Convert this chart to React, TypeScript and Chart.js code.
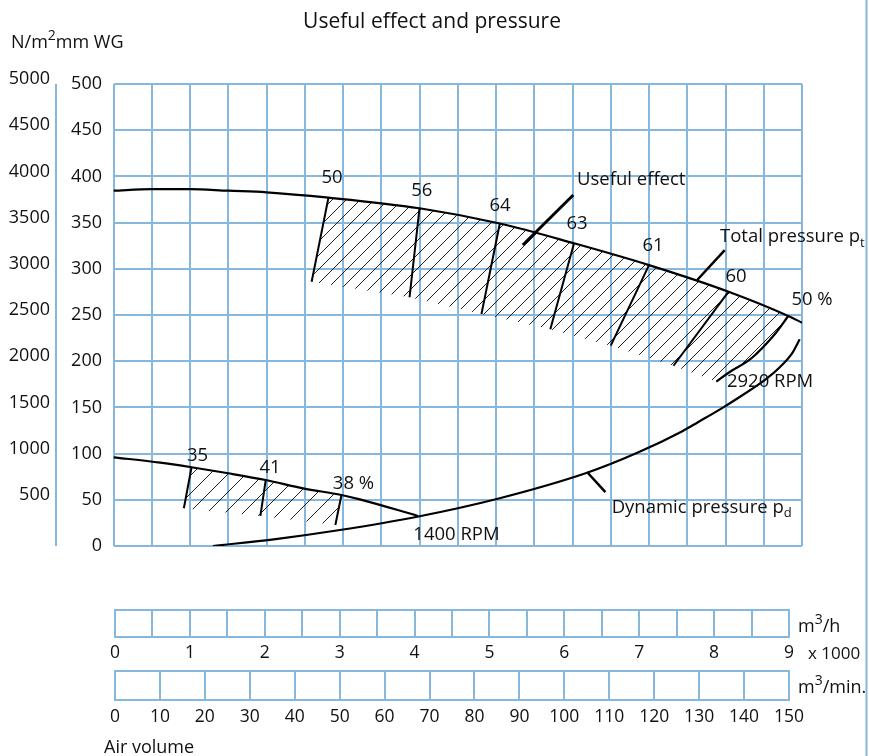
import React, { useEffect, useRef } from 'react';
import { Chart, registerables } from 'chart.js';

Chart.register(...registerables);

const FONT = '"Open Sans", "Noto Sans", sans-serif';
const GRID = '#86b8dd';
const INK = '#111111';

// ---- axis ticks ----
const mmWgMin = 0;
const mmWgMax = 500;
const mmWgStep = 50;
const nm2Labels = [500, 1000, 1500, 2000, 2500, 3000, 3500, 4000, 4500, 5000];
const volThousandLabels = [0, 1, 2, 3, 4, 5, 6, 7, 8, 9];
const volMinLabels = [0, 10, 20, 30, 40, 50, 60, 70, 80, 90, 100, 110, 120, 130, 140, 150];

// ---- total pressure, 2920 RPM (x: 1000 m3/h, y: mm WG) ----
const hiTotalX = [0, 0.5, 1, 1.5, 2, 2.81, 4.0, 5.05, 6.02, 7.0, 8.04, 8.82, 9.0];
const hiTotalY = [384.5, 386.3, 386.3, 384.5, 382.8, 377, 365.5, 349, 327.6, 304, 275.2, 249, 241.7];

// ---- total pressure, 1400 RPM ----
const loTotalX = [0, 0.61, 1.02, 1.5, 1.99, 2.48, 2.98, 3.22, 3.98];
const loTotalY = [96, 90.2, 85.2, 78.7, 71.4, 62.4, 55.2, 50.5, 32.5];

// ---- dynamic pressure ----
const dynX = [1.3, 2.12, 2.96, 3.97, 5.01, 6.19, 6.84, 7.43, 7.64, 7.95, 8.19, 8.52, 8.71, 8.87, 8.97];
const dynY = [0, 7.5, 17.3, 31.7, 50.9, 79.3, 100.6, 124, 134, 149, 161.5, 180, 193.5, 208.5, 223.7];

// ---- useful effect lines, 2920 RPM ----
const hiEffTopX = [2.81, 4.0, 5.05, 6.02, 7.0, 8.04];
const hiEffTopY = [377, 365.5, 349, 327.6, 304, 275.2];
const hiEffBotX = [2.59, 3.87, 4.81, 5.71, 6.5, 7.32];
const hiEffBotY = [286, 269.2, 251.1, 234.5, 216.8, 195.1];
// 50 % curve
const hiEff50X = [8.82, 8.67, 8.54, 8.41, 8.28, 8.06, 7.88];
const hiEff50Y = [248.9, 231.9, 219.4, 208.5, 199.5, 188.6, 177.8];

// ---- useful effect lines, 1400 RPM ----
const loEffTopX = [1.02, 1.99, 2.98];
const loEffTopY = [85.2, 71.4, 55.2];
const loEffBotX = [0.92, 1.92, 2.9];
const loEffBotY = [40.8, 32.5, 22.7];

// ---- efficiency labels ----
const effLabelText = ['50', '56', '64', '63', '61', '60', '50 %', '35', '41', '38 %'];
const effLabelX = [2.856, 4.029, 5.052, 6.059, 7.052, 8.137, 9.131, 1.098, 2.046, 3.137];
const effLabelY = [398.3, 384.4, 368.0, 349.2, 324.7, 291.9, 266.6, 97.6, 85.0, 67.9];

// ---- leader lines ----
const leaderUsefulX = [6.01, 5.35];
const leaderUsefulY = [379.9, 325.8];
const leaderTotalX = [7.99, 7.63];
const leaderTotalY = [320.3, 287.9];
const leaderDynX = [6.43, 6.19];
const leaderDynY = [58.4, 80.1];

// ---- text annotations (data coordinates) ----
const noteText = ['Useful effect', 'Total pressure p', '2920 RPM', '1400 RPM', 'Dynamic pressure p'];
const noteSub = ['', 't', '', '', 'd'];
const noteX = [6.059, 7.928, 8.019, 3.919, 6.512];
const noteY = [396.1, 334.4, 177.5, 11.9, 41.9];

const pts = (xs: number[], ys: number[]) => xs.map((x, i) => ({ x, y: ys[i] }));

function makeHatch(step: number) {
  const c = document.createElement('canvas');
  c.width = step;
  c.height = step;
  const g = c.getContext('2d')!;
  g.strokeStyle = '#202020';
  g.lineWidth = 1;
  g.beginPath();
  g.moveTo(0, step);
  g.lineTo(step, 0);
  g.moveTo(-step / 2, step / 2);
  g.lineTo(step / 2, -step / 2);
  g.moveTo(step / 2, step * 1.5);
  g.lineTo(step * 1.5, step / 2);
  g.stroke();
  return g.createPattern(c, 'repeat')!;
}

type Part = { t: string; size: number; dy?: number };
function drawRich(ctx: CanvasRenderingContext2D, parts: Part[], x: number, y: number, align: string) {
  let total = 0;
  parts.forEach((p) => {
    ctx.font = `${p.size}px ${FONT}`;
    total += ctx.measureText(p.t).width;
  });
  let cx = align === 'center' ? x - total / 2 : align === 'right' ? x - total : x;
  ctx.textAlign = 'left';
  parts.forEach((p) => {
    ctx.font = `${p.size}px ${FONT}`;
    ctx.fillText(p.t, cx, y + (p.dy || 0));
    cx += ctx.measureText(p.t).width;
  });
}

const decorPlugin = {
  id: 'decor',
  afterDraw(chart: any) {
    const ctx: CanvasRenderingContext2D = chart.ctx;
    const xs = chart.scales.x;
    const ys = chart.scales.y;
    ctx.save();
    ctx.fillStyle = INK;
    ctx.textBaseline = 'middle';

    // title
    drawRich(ctx, [{ t: 'Useful effect and pressure', size: 21 }], 432, 22, 'center');
    // unit header
    drawRich(ctx, [{ t: 'N/m', size: 18 }, { t: '2', size: 14, dy: -7 }, { t: 'mm WG', size: 18 }], 11, 43, 'left');

    // N/m2 column + its axis line
    ctx.font = `18px ${FONT}`;
    ctx.textAlign = 'right';
    nm2Labels.forEach((v) => {
      ctx.fillText(String(v), 50, ys.getPixelForValue(v / 10) - 5);
    });
    ctx.strokeStyle = GRID;
    ctx.lineWidth = 2;
    ctx.beginPath();
    ctx.moveTo(56, ys.getPixelForValue(mmWgMax));
    ctx.lineTo(56, ys.getPixelForValue(mmWgMin));
    ctx.stroke();

    // right border line
    ctx.beginPath();
    ctx.moveTo(866.5, 0);
    ctx.lineTo(866.5, 756);
    ctx.stroke();

    // efficiency labels
    effLabelText.forEach((t, i) => {
      drawRich(ctx, [{ t, size: 18.5 }], xs.getPixelForValue(effLabelX[i]), ys.getPixelForValue(effLabelY[i]), 'center');
    });
    // notes
    noteText.forEach((t, i) => {
      const parts: Part[] = [{ t, size: 18.5 }];
      if (noteSub[i]) parts.push({ t: noteSub[i], size: 13, dy: 6 });
      drawRich(ctx, parts, xs.getPixelForValue(noteX[i]), ys.getPixelForValue(noteY[i]), 'left');
    });

    // air volume strips
    const sL = 115;
    const sR = 789;
    const strip = (top: number, bottom: number, cells: number) => {
      ctx.strokeStyle = GRID;
      ctx.lineWidth = 2;
      ctx.strokeRect(sL, top, sR - sL, bottom - top);
      ctx.beginPath();
      for (let i = 1; i < cells; i++) {
        const px = Math.round(sL + ((sR - sL) * i) / cells);
        ctx.moveTo(px, top);
        ctx.lineTo(px, bottom);
      }
      ctx.stroke();
    };
    strip(610, 637, (volThousandLabels.length - 1) * 2);
    strip(671, 700, volMinLabels.length - 1);

    ctx.fillStyle = INK;
    ctx.font = `17.5px ${FONT}`;
    ctx.textAlign = 'center';
    const n1 = volThousandLabels.length - 1;
    volThousandLabels.forEach((v, i) => {
      ctx.fillText(String(v), sL + ((sR - sL) * i) / n1, 653);
    });
    const n2 = volMinLabels.length - 1;
    volMinLabels.forEach((v, i) => {
      ctx.fillText(String(v), sL + ((sR - sL) * i) / n2, 717);
    });
    drawRich(ctx, [{ t: 'm', size: 18 }, { t: '3', size: 14, dy: -7 }, { t: '/h', size: 18 }], 798, 627, 'left');
    drawRich(ctx, [{ t: 'x 1000', size: 17 }], 808, 654, 'left');
    drawRich(ctx, [{ t: 'm', size: 18 }, { t: '3', size: 14, dy: -7 }, { t: '/min.', size: 18 }], 798, 688, 'left');
    drawRich(ctx, [{ t: 'Air volume', size: 18 }], 104, 748, 'left');
    ctx.restore();
  },
};

export default function App() {
  const ref = useRef<HTMLCanvasElement | null>(null);
  useEffect(() => {
    if (!ref.current) return;
    const hatchA = makeHatch(14);
    const hatchB = makeHatch(18);

    const upperPoly = [
      ...pts(hiTotalX, hiTotalY).filter((p) => p.x >= hiEffTopX[0] && p.x <= hiEff50X[0]),
      ...pts(hiEff50X, hiEff50Y).slice(1),
      ...pts(hiEffBotX, hiEffBotY).reverse(),
      { x: hiEffTopX[0], y: hiEffTopY[0] },
    ];
    const lowerPoly = [
      ...pts(loTotalX, loTotalY).filter((p) => p.x >= loEffTopX[0] && p.x <= loEffTopX[loEffTopX.length - 1]),
      ...pts(loEffBotX, loEffBotY).reverse(),
      { x: loEffTopX[0], y: loEffTopY[0] },
    ];

    const line = (data: any[], width = 2, tension = 0) => ({
      data,
      borderColor: '#000',
      borderWidth: width,
      pointRadius: 0,
      fill: false,
      tension,
      cubicInterpolationMode: tension ? 'monotone' : 'default',
    });

    const datasets: any[] = [
      line(pts(hiTotalX, hiTotalY), 2.2, 0.4),
      line(pts(loTotalX, loTotalY), 2.2, 0.4),
      line(pts(dynX, dynY), 2.2, 0.4),
      { ...line(pts(hiEff50X, hiEff50Y), 2.2, 0.4), cubicInterpolationMode: 'default' },
      ...hiEffTopX.map((x, i) => line([{ x, y: hiEffTopY[i] }, { x: hiEffBotX[i], y: hiEffBotY[i] }], 2)),
      ...loEffTopX.map((x, i) => line([{ x, y: loEffTopY[i] }, { x: loEffBotX[i], y: loEffBotY[i] }], 2)),
      line(pts(leaderUsefulX, leaderUsefulY), 3),
      line(pts(leaderTotalX, leaderTotalY), 2.5),
      line(pts(leaderDynX, leaderDynY), 2.5),
      { data: upperPoly, borderWidth: 0, pointRadius: 0, fill: 'shape', backgroundColor: hatchA, tension: 0 },
      { data: lowerPoly, borderWidth: 0, pointRadius: 0, fill: 'shape', backgroundColor: hatchB, tension: 0 },
    ];

    const chart = new Chart(ref.current, {
      type: 'line',
      data: { datasets },
      options: {
        animation: false,
        responsive: false,
        devicePixelRatio: 1,
        layout: { padding: { left: 0, right: 67, top: 84, bottom: 210 } },
        plugins: { legend: { display: false }, tooltip: { enabled: false }, title: { display: false } },
        elements: { point: { radius: 0 } },
        scales: {
          x: {
            type: 'linear',
            min: 0,
            max: 9,
            ticks: { stepSize: 0.5, display: false },
            grid: { color: GRID, lineWidth: 2, drawTicks: false },
            border: { display: false },
            afterFit: (s: any) => {
              s.height = 0;
            },
          },
          y: {
            type: 'linear',
            min: mmWgMin,
            max: mmWgMax,
            ticks: { stepSize: mmWgStep, color: INK, font: { family: FONT, size: 18 }, padding: 11.5 },
            grid: { color: GRID, lineWidth: 2, drawTicks: false },
            border: { display: false },
            afterFit: (s: any) => {
              s.width = 113.5;
            },
          },
        },
      } as any,
      plugins: [decorPlugin],
    });
    return () => chart.destroy();
  }, []);

  return (
    <div style={{ position: 'absolute', left: 0, top: 0, width: 869, height: 756, background: '#fff' }}>
      <canvas ref={ref} width={869} height={756} style={{ display: 'block' }} />
    </div>
  );
}
